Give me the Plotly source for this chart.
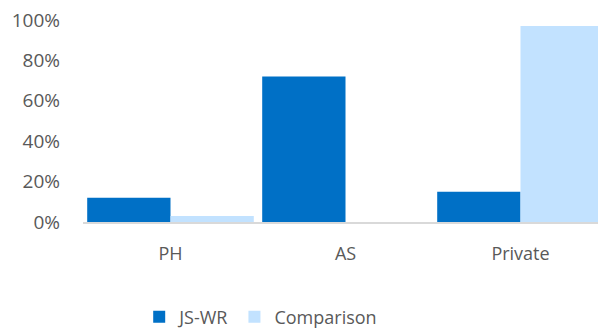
import plotly.graph_objects as go

categories = ["PH", "AS", "Private"]
js_wr = [0.12, 0.72, 0.15]
comparison = [0.03, 0.0, 0.97]
y_ticks = [0, 0.2, 0.4, 0.6, 0.8, 1.0]
y_tick_labels = ["0%", "20%", "40%", "60%", "80%", "100%"]

font_family = "Open Sans, sans-serif"
grey = "#595959"

fig = go.Figure()
fig.add_trace(go.Bar(name="JS-WR", x=categories, y=js_wr, marker_color="#0070C6",
                     marker_line_width=0))
fig.add_trace(go.Bar(name="Comparison", x=categories, y=comparison, marker_color="#C2E2FF",
                     marker_line_width=0))

fig.update_layout(
    width=606, height=333,
    margin=dict(l=75, r=6, t=12, b=119, pad=0, autoexpand=False),
    barmode="group", bargap=0.048, bargroupgap=0,
    plot_bgcolor="white", paper_bgcolor="white",
    font=dict(family=font_family, size=18, color=grey),
    showlegend=True,
    legend=dict(orientation="h", xref="container", yref="container",
                x=0.417, y=0.072, xanchor="center", yanchor="middle",
                font=dict(size=18, color=grey), traceorder="normal",
                itemwidth=30),
)
fig.update_xaxes(
    range=[-0.5, 2.5], showgrid=False, showline=True, linecolor="#D9D9D9", linewidth=2,
    ticks="", ticklabelstandoff=14, tickfont=dict(size=18, color=grey), automargin=False,
)
fig.update_yaxes(
    range=[0, 1.0], tickvals=y_ticks, ticktext=y_tick_labels, showgrid=False,
    zeroline=False, showline=False, ticks="", ticklabelstandoff=22,
    ticklabeloverflow="allow",
    tickfont=dict(size=19, color=grey), automargin=False,
)

fig.write_html("out.html")
